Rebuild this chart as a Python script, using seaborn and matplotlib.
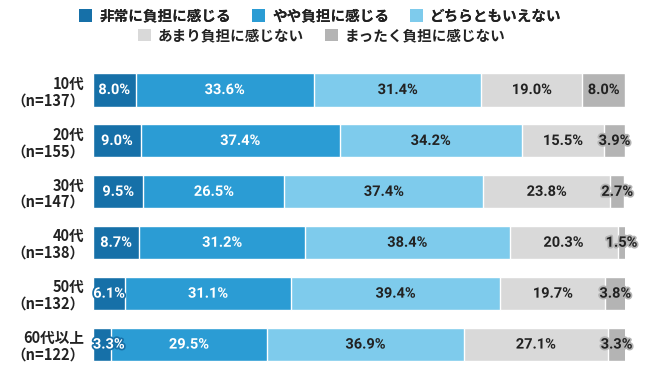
import numpy as np
import pandas as pd
import matplotlib
matplotlib.use("Agg")
import matplotlib.pyplot as plt
import matplotlib.patheffects as pe
from matplotlib.patches import Patch
import seaborn as sns

# data
groups = ["10代\n（n=137）", "20代\n（n=155）", "30代\n（n=147）",
          "40代\n（n=138）", "50代\n（n=132）", "60代以上\n（n=122）"]
answers = ["非常に負担に感じる", "やや負担に感じる", "どちらともいえない",
           "あまり負担に感じない", "まったく負担に感じない"]
very = [8.0, 9.0, 9.5, 8.7, 6.1, 3.3]
somewhat = [33.6, 37.4, 26.5, 31.2, 31.1, 29.5]
neutral = [31.4, 34.2, 37.4, 38.4, 39.4, 36.9]
not_much = [19.0, 15.5, 23.8, 20.3, 19.7, 27.1]
not_at_all = [8.0, 3.9, 2.7, 1.5, 3.8, 3.3]

colors = ["#1670a8", "#2b9cd4", "#7ecbec", "#d9d9d9", "#b4b4b4"]
text_colors = ["white", "white", "#222222", "#222222", "#222222"]

sns.set_style("white")
plt.rcParams["font.family"] = ["Noto Sans CJK JP", "DejaVu Sans"]

df = pd.DataFrame({"group": groups})
series = [very, somewhat, neutral, not_much, not_at_all]
cum = np.cumsum(np.array(series), axis=0)
for i, name in enumerate(answers):
    df[name] = cum[i]

fig = plt.figure(figsize=(6.5, 3.69), dpi=100)
ax = fig.add_axes([0.143, 0.011, 0.8185, 0.814])

# stacked bars: draw cumulative totals from the outermost segment inward
for i in range(len(answers) - 1, -1, -1):
    sns.barplot(data=df, y="group", x=answers[i], color=colors[i],
                orient="h", width=0.65, saturation=1, ax=ax)

for r in range(len(groups)):
    left = 0.0
    for i, vals in enumerate(series):
        v = vals[r]
        xc = max(left + v / 2, 3.0)
        ax.text(xc, r, f"{v:.1f}%", ha="center", va="center",
                fontsize=10.5, fontweight="bold", family=["Roboto", "DejaVu Sans"],
                color=text_colors[i],
                path_effects=[pe.withStroke(linewidth=2.5, foreground=colors[i])])
        left += v

ax.set_xlim(0, 100)
ax.set_ylim(5.4, -0.5)
ax.set_xlabel("")
ax.set_ylabel("")
ax.set_xticks([])
ax.tick_params(axis="y", length=0, pad=6)
for lab in ax.get_yticklabels():
    lab.set_fontsize(10.5)
    lab.set_fontweight("bold")
    lab.set_color("#222222")
    lab.set_linespacing(1.05)
sns.despine(ax=ax, left=True, bottom=True)

handles = [Patch(facecolor=c, edgecolor="none") for c in colors]
leg1 = fig.legend(handles[:3], answers[:3], loc="center", ncol=3,
                  bbox_to_anchor=(0.493, 0.958), frameon=False,
                  prop={"weight": "bold", "size": 10.5},
                  handlelength=0.9, handleheight=0.9, handletextpad=0.5,
                  columnspacing=1.4)
for t in leg1.get_texts():
    t.set_color("#222222")
fig.add_artist(leg1)
leg2 = fig.legend(handles[3:], answers[3:], loc="center", ncol=2,
                  bbox_to_anchor=(0.495, 0.905), frameon=False,
                  prop={"weight": "bold", "size": 10.5},
                  handlelength=0.9, handleheight=0.9, handletextpad=0.5,
                  columnspacing=1.4)
for t in leg2.get_texts():
    t.set_color("#222222")

fig.savefig("out.png", dpi=100)
